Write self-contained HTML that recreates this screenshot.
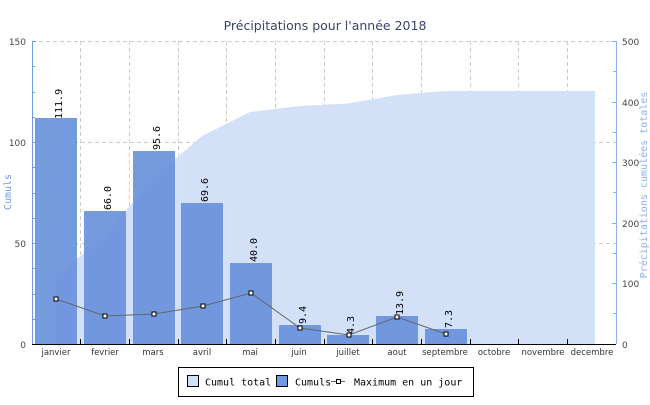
<!DOCTYPE html>
<html><head><meta charset="utf-8"><style>
body{margin:0;background:#fff;}
</style></head><body>
<svg width="650" height="400" viewBox="0 0 650 400" xmlns="http://www.w3.org/2000/svg">
<rect width="650" height="400" fill="#fff"/>
<text x="325" y="30" font-size="12.5" fill="#3a4566" text-anchor="middle" font-family="DejaVu Sans, sans-serif">Précipitations pour l'année 2018</text>
<g stroke="#ccc" stroke-dasharray="4,3" stroke-width="1">
<line x1="32" y1="41.5" x2="616" y2="41.5"/>
<line x1="32" y1="142.5" x2="616" y2="142.5"/>
<line x1="32" y1="243.5" x2="616" y2="243.5"/>
<line x1="80.5" y1="41" x2="80.5" y2="344"/>
<line x1="129.5" y1="41" x2="129.5" y2="344"/>
<line x1="178.5" y1="41" x2="178.5" y2="344"/>
<line x1="226.5" y1="41" x2="226.5" y2="344"/>
<line x1="275.5" y1="41" x2="275.5" y2="344"/>
<line x1="324.5" y1="41" x2="324.5" y2="344"/>
<line x1="372.5" y1="41" x2="372.5" y2="344"/>
<line x1="421.5" y1="41" x2="421.5" y2="344"/>
<line x1="470.5" y1="41" x2="470.5" y2="344"/>
<line x1="518.5" y1="41" x2="518.5" y2="344"/>
<line x1="567.5" y1="41" x2="567.5" y2="344"/>
</g>
<polygon fill="#d2e0f8" points="56,344 56,276 105,236 153,178 202,136 250,112 299,106 348,103.5 397,95 445,91 595,91 595,344"/>
<g fill="#6690dc" fill-opacity="0.9">
<rect x="35" y="118" width="42" height="226"/>
<rect x="84" y="211" width="42" height="133"/>
<rect x="133" y="151" width="42" height="193"/>
<rect x="181" y="203" width="42" height="141"/>
<rect x="230" y="263" width="42" height="81"/>
<rect x="279" y="325" width="42" height="19"/>
<rect x="327" y="335" width="42" height="9"/>
<rect x="376" y="316" width="42" height="28"/>
<rect x="425" y="329" width="42" height="15"/>
</g>
<g font-size="10" fill="#000" font-family="DejaVu Sans Mono, monospace">
<text transform="translate(62,119) rotate(-90)">111.9</text>
<text transform="translate(111,210) rotate(-90)">66.0</text>
<text transform="translate(160,150) rotate(-90)">95.6</text>
<text transform="translate(208,202) rotate(-90)">69.6</text>
<text transform="translate(257,262) rotate(-90)">40.0</text>
<text transform="translate(306,324) rotate(-90)">9.4</text>
<text transform="translate(354,334) rotate(-90)">4.3</text>
<text transform="translate(403,315) rotate(-90)">13.9</text>
<text transform="translate(452,328) rotate(-90)">7.3</text>
</g>
<polyline fill="none" stroke="#666" stroke-width="1" points="56,299 105,316 154,314 203,306 251,293 300,328 349,335 397,317 446,334"/>
<g fill="#fff" stroke="#000" stroke-width="1">
<rect x="54" y="297" width="4" height="4"/><rect x="103" y="314" width="4" height="4"/><rect x="152" y="312" width="4" height="4"/><rect x="201" y="304" width="4" height="4"/><rect x="249" y="291" width="4" height="4"/><rect x="298" y="326" width="4" height="4"/><rect x="347" y="333" width="4" height="4"/><rect x="395" y="315" width="4" height="4"/><rect x="444" y="332" width="4" height="4"/>
</g>
<line x1="32.5" y1="41" x2="32.5" y2="344" stroke="#6f99e0"/>
<g stroke="#6f99e0"><line x1="32" y1="41.5" x2="36" y2="41.5"/><line x1="32" y1="142.5" x2="36" y2="142.5"/><line x1="32" y1="243.5" x2="36" y2="243.5"/>
<line x1="32" y1="66.5" x2="35" y2="66.5"/><line x1="32" y1="92.5" x2="35" y2="92.5"/><line x1="32" y1="117.5" x2="35" y2="117.5"/><line x1="32" y1="167.5" x2="35" y2="167.5"/><line x1="32" y1="193.5" x2="35" y2="193.5"/><line x1="32" y1="218.5" x2="35" y2="218.5"/><line x1="32" y1="268.5" x2="35" y2="268.5"/><line x1="32" y1="294.5" x2="35" y2="294.5"/><line x1="32" y1="319.5" x2="35" y2="319.5"/></g>
<line x1="616.5" y1="41" x2="616.5" y2="344" stroke="#8ab0f0"/>
<g stroke="#8ab0f0"><line x1="612" y1="41.5" x2="616" y2="41.5"/><line x1="612" y1="102.5" x2="616" y2="102.5"/><line x1="612" y1="162.5" x2="616" y2="162.5"/><line x1="612" y1="223.5" x2="616" y2="223.5"/><line x1="612" y1="283.5" x2="616" y2="283.5"/>
<line x1="613" y1="71.5" x2="616" y2="71.5"/><line x1="613" y1="132.5" x2="616" y2="132.5"/><line x1="613" y1="192.5" x2="616" y2="192.5"/><line x1="613" y1="253.5" x2="616" y2="253.5"/><line x1="613" y1="313.5" x2="616" y2="313.5"/></g>
<line x1="32" y1="344.5" x2="616" y2="344.5" stroke="#000"/>
<g stroke="#000"><line x1="80.5" y1="339" x2="80.5" y2="344"/><line x1="129.5" y1="339" x2="129.5" y2="344"/><line x1="178.5" y1="339" x2="178.5" y2="344"/><line x1="226.5" y1="339" x2="226.5" y2="344"/><line x1="275.5" y1="339" x2="275.5" y2="344"/><line x1="324.5" y1="339" x2="324.5" y2="344"/><line x1="372.5" y1="339" x2="372.5" y2="344"/><line x1="421.5" y1="339" x2="421.5" y2="344"/><line x1="470.5" y1="339" x2="470.5" y2="344"/><line x1="518.5" y1="339" x2="518.5" y2="344"/><line x1="567.5" y1="339" x2="567.5" y2="344"/></g>
<g font-size="9" fill="#444" text-anchor="end" font-family="DejaVu Sans, sans-serif">
<text x="26" y="45">150</text><text x="26" y="146">100</text><text x="26" y="247">50</text><text x="26" y="348">0</text>
</g>
<g font-size="9" fill="#444" font-family="DejaVu Sans, sans-serif">
<text x="622" y="45">500</text><text x="622" y="106">400</text><text x="622" y="166">300</text><text x="622" y="227">200</text><text x="622" y="287">100</text><text x="622" y="348">0</text>
</g>
<g font-size="8.5" fill="#333" text-anchor="middle" font-family="DejaVu Sans, sans-serif">
<text x="56" y="355">janvier</text><text x="105" y="355">fevrier</text><text x="153" y="355">mars</text><text x="202" y="355">avril</text><text x="250" y="355">mai</text><text x="299" y="355">juin</text><text x="348" y="355">juillet</text><text x="397" y="355">aout</text><text x="445" y="355">septembre</text><text x="494" y="355">octobre</text><text x="543" y="355">novembre</text><text x="592" y="355">decembre</text>
</g>
<text transform="translate(11,192) rotate(-90)" font-size="10" fill="#6f99e0" text-anchor="middle" font-family="DejaVu Sans Mono, monospace">Cumuls</text>
<text transform="translate(647,185) rotate(-90)" font-size="10" fill="#8ab0f0" text-anchor="middle" font-family="DejaVu Sans Mono, monospace">Précipitations cumulées totales</text>
<rect x="178.5" y="367.5" width="295" height="29" fill="#fff" stroke="#000"/>
<g font-size="10" fill="#000" font-family="DejaVu Sans Mono, monospace">
<rect x="187.5" y="375.5" width="11" height="11" fill="#d2e0f8" stroke="#000"/>
<text x="205" y="385.5">Cumul total</text>
<rect x="276.5" y="375.5" width="11" height="11" fill="#6f99e0" stroke="#000"/>
<text x="295" y="385.5">Cumuls</text>
<line x1="331" y1="381.5" x2="345" y2="381.5" stroke="#666"/>
<rect x="336.5" y="379.5" width="4" height="4" fill="#fff" stroke="#000"/>
<text x="354" y="385.5">Maximum en un jour</text>
</g>
</svg>
</body></html>
